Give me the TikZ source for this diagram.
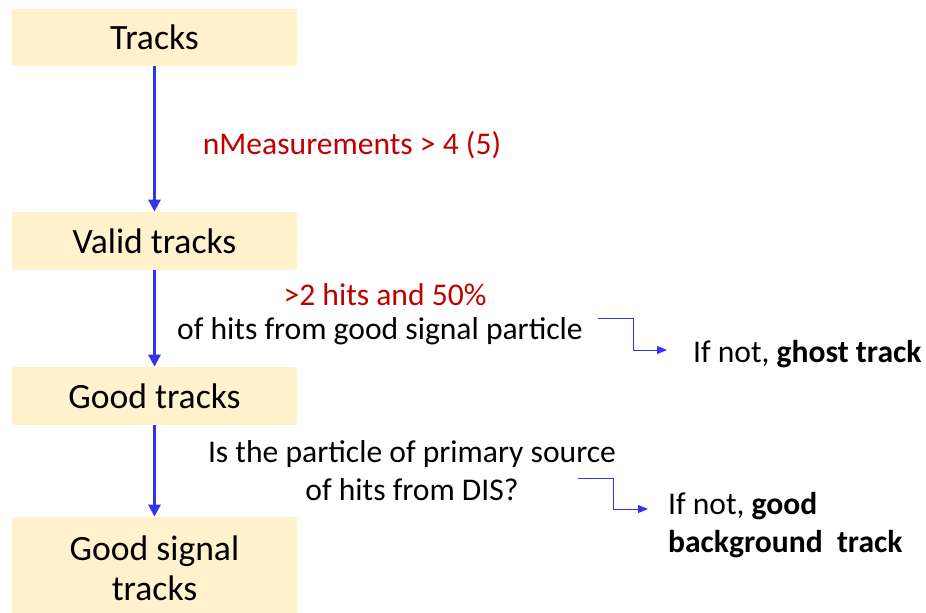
\documentclass[tikz,border=0pt]{standalone}
\usepackage{fontspec}
\setmainfont{Carlito}
\usetikzlibrary{arrows.meta}
\definecolor{boxfill}{HTML}{FFF2CC}
\definecolor{flowblue}{HTML}{3333EE}
\definecolor{cutred}{HTML}{C00000}
\tikzset{
	stage/.style={fill=boxfill, minimum width=142.5pt, align=center, font=\fontsize{17.8}{20}\selectfont},
	cut/.style={font=\fontsize{15.8}{19}\selectfont, align=center},
	flow/.style={flowblue, line width=1.5pt, -{Triangle[length=6pt,width=6pt]}},
	side/.style={flowblue, line width=0.5pt, -{Triangle[length=5pt,width=4pt]}}
}

\begin{document}
\begin{tikzpicture}[x=0.5pt,y=-0.5pt]
		%%%%% START %%%%%
		\useasboundingbox (0,0) rectangle (926,612);
		
		\node[stage, minimum height=28.5pt] (tracks) at (154.5,37.5) {Tracks};
		\node[stage, minimum height=29pt] (valid) at (154.5,241) {Valid tracks};
		\node[stage, minimum height=29pt] (good) at (154.5,396) {Good tracks};
		\node[stage, minimum height=51.5pt] (signal) at (154.5,568.5) {Good signal\\tracks};
		
		\draw[flow] (tracks) -- (valid);
		\draw[flow] (valid) -- (good);
		\draw[flow] (good) -- (signal);
		
		\node[cut, text=cutred] (nmeas) at (352,145) {nMeasurements > 4 (5)};
		\node[cut, text=cutred] (hits) at (385,295) {>2 hits and 50\%};
		\node[cut] (frac) at (380,331) {of hits from good signal particle};
		\node[cut] (dis) at (412,471) {Is the particle of primary source\\of hits from DIS?};
		
		\coordinate (g0) at (598,318);
		\coordinate (g1) at (667,350);
		\draw[side] (g0) -- ++(35,0) |- (g1);
		\node[cut, anchor=west] (ghost) at ([xshift=9.5pt,yshift=-2pt]g1) {If not, \textbf{ghost track}};
		
		\coordinate (b0) at (578,478);
		\coordinate (b1) at (648,509);
		\draw[side] (b0) -- ++(35,0) |- (b1);
		\node[cut, anchor=west, align=left] (bkg) at ([xshift=6.5pt,yshift=-8pt]b1) {If not, \textbf{good}\\\textbf{background\ \ track}};
		%%%%% END %%%%%
	\end{tikzpicture}
\end{document}
